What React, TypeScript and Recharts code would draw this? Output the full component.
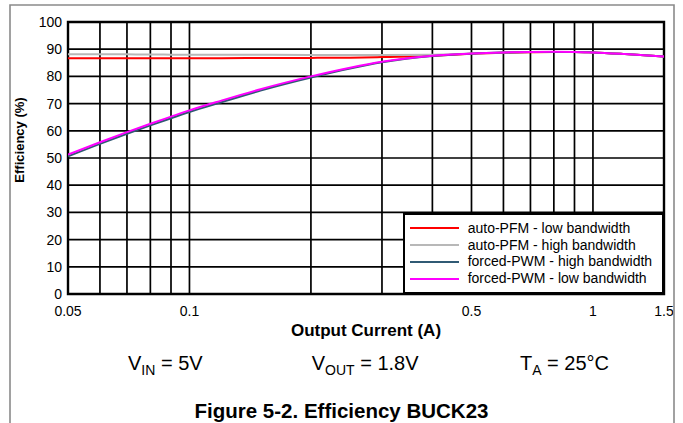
import React from 'react';
import { LineChart, Line, XAxis, YAxis, ReferenceLine, ReferenceArea, Legend } from 'recharts';

const FONT = '"Liberation Sans", Arial, sans-serif';

// Output current (A)
const currents = [0.05, 0.06, 0.07, 0.08, 0.09, 0.1, 0.12, 0.15, 0.2, 0.25, 0.3, 0.4, 0.5, 0.6, 0.7, 0.8, 0.9, 1, 1.2, 1.5];
// Efficiency (%)
const autoPfmLow = [86.7, 86.7, 86.7, 86.7, 86.7, 86.7, 86.7, 86.75, 86.8, 86.9, 87.1, 87.6, 88.3, 88.7, 88.9, 89.0, 89.0, 88.8, 88.2, 87.3];
const autoPfmHigh = [88.1, 88.1, 88.1, 88.05, 88.0, 88.0, 88.0, 87.95, 87.9, 87.9, 87.9, 88.0, 88.4, 88.75, 88.95, 89.0, 89.0, 88.8, 88.2, 87.3];
const forcedPwmHigh = [50.6, 55.2, 58.9, 62.0, 64.6, 66.9, 70.5, 74.8, 79.6, 82.9, 85.2, 87.5, 88.35, 88.75, 88.95, 89.0, 89.0, 88.8, 88.2, 87.3];
const forcedPwmLow = [51.3, 55.8, 59.5, 62.6, 65.2, 67.5, 71.1, 75.3, 80.0, 83.2, 85.4, 87.6, 88.4, 88.8, 89.0, 89.05, 89.0, 88.8, 88.2, 87.3];

const xTicks = [0.05, 0.1, 0.5, 1, 1.5];
const yTicks = [0, 10, 20, 30, 40, 50, 60, 70, 80, 90, 100];
const xGrid = [0.06, 0.07, 0.08, 0.09, 0.1, 0.2, 0.3, 0.4, 0.5, 0.6, 0.7, 0.8, 0.9, 1];
const yGrid = [10, 20, 30, 40, 50, 60, 70, 80, 90];

const seriesNames = [
  'auto-PFM - low bandwidth',
  'auto-PFM - high bandwidth',
  'forced-PWM - high bandwidth',
  'forced-PWM - low bandwidth',
];

const data = currents.map((c, i) => ({
  current: c,
  pfmLow: autoPfmLow[i],
  pfmHigh: autoPfmHigh[i],
  pwmHigh: forcedPwmHigh[i],
  pwmLow: forcedPwmLow[i],
}));

const renderLegend = (props: any) => {
  const payload = [...(props.payload || [])].sort(
    (a: any, b: any) => seriesNames.indexOf(a.value) - seriesNames.indexOf(b.value)
  );
  return (
    <div
      style={{
        boxSizing: 'border-box',
        width: 261,
        height: 81,
        border: '2px solid #000',
        background: '#fff',
        paddingTop: 4.8,
        fontFamily: FONT,
        fontSize: 14,
        color: '#000',
      }}
    >
      {payload.map((p: any, i: number) => (
        <div key={i} style={{ height: 16.8, display: 'flex', alignItems: 'center', whiteSpace: 'nowrap' }}>
          <svg width={49} height={4} style={{ marginLeft: 5, display: 'block' }}>
            <line x1={0} y1={2} x2={49} y2={2} stroke={p.color} strokeWidth={2} />
          </svg>
          <span style={{ marginLeft: 8.7, lineHeight: '16.8px' }}>{p.value}</span>
        </div>
      ))}
    </div>
  );
};

export default function App() {
  const tickStyle = { fontSize: 14, fill: '#000', fontFamily: FONT };
  return (
    <div style={{ position: 'absolute', left: 0, top: 0, width: 683, height: 423, background: '#fff', overflow: 'hidden' }}>
      <LineChart width={683} height={423} data={data} margin={{ top: 22, right: 19, bottom: 89, left: 0 }}>
        <XAxis
          dataKey="current"
          type="number"
          scale="log"
          domain={[0.05, 1.5]}
          ticks={xTicks}
          allowDataOverflow
          interval={0}
          height={40}
          tickSize={0}
          tickMargin={12}
          axisLine={false}
          tickLine={false}
          tick={tickStyle}
          tickFormatter={(v: number) => String(v)}
        />
        <YAxis
          type="number"
          domain={[0, 100]}
          ticks={yTicks}
          interval={0}
          width={68}
          tickSize={0}
          tickMargin={6}
          axisLine={false}
          tickLine={false}
          tick={tickStyle}
        />
        {xGrid.map((v) => (
          <ReferenceLine key={'x' + v} x={v} stroke="#000" strokeWidth={1.7} />
        ))}
        {yGrid.map((v) => (
          <ReferenceLine key={'y' + v} y={v} stroke="#000" strokeWidth={1.7} />
        ))}
        <ReferenceArea x1={0.05} x2={1.5} y1={0} y2={100} fill="none" fillOpacity={0} stroke="#000" strokeWidth={2.4} />
        <Legend
          layout="vertical"
          align="center"
          verticalAlign="middle"
          content={renderLegend}
          wrapperStyle={{ left: 403, top: 213, bottom: 'auto', right: 'auto', width: 261, height: 81 }}
        />
        <Line type="monotone" dataKey="pfmLow" name={seriesNames[0]} stroke="#ff0000" strokeWidth={2} dot={false} isAnimationActive={false} />
        <Line type="monotone" dataKey="pfmHigh" name={seriesNames[1]} stroke="#b8b8b8" strokeWidth={2} dot={false} isAnimationActive={false} />
        <Line type="monotone" dataKey="pwmHigh" name={seriesNames[2]} stroke="#305a74" strokeWidth={2} dot={false} isAnimationActive={false} />
        <Line type="monotone" dataKey="pwmLow" name={seriesNames[3]} stroke="#ff00ff" strokeWidth={2} dot={false} isAnimationActive={false} />
      </LineChart>
      <svg width={683} height={423} style={{ position: 'absolute', left: 0, top: 0, pointerEvents: 'none' }}>
        <path d="M10,430 L10,5 L674,5 L674,430" fill="none" stroke="#8a8a8a" strokeWidth={1.6} />
        <text
          transform="translate(23.5,140) rotate(-90)"
          textAnchor="middle"
          fontFamily={FONT}
          fontWeight="bold"
          fontSize={13}
          fill="#000"
        >
          Efficiency (%)
        </text>
        <text x={366} y={336} textAnchor="middle" fontFamily={FONT} fontWeight="bold" fontSize={17} fill="#000">
          Output Current (A)
        </text>
        <text x={128} y={370} fontFamily={FONT} fontSize={20} fill="#000">
          V<tspan fontSize={14} dy={5}>IN</tspan>
          <tspan dy={-5}> = 5V</tspan>
        </text>
        <text x={311.7} y={370} fontFamily={FONT} fontSize={20} fill="#000">
          V<tspan fontSize={14} dy={5}>OUT</tspan>
          <tspan dy={-5}> = 1.8V</tspan>
        </text>
        <text x={520} y={370} fontFamily={FONT} fontSize={20} fill="#000">
          T<tspan fontSize={14} dy={5}>A</tspan>
          <tspan dy={-5}> = 25°C</tspan>
        </text>
        <text x={341.5} y={418} textAnchor="middle" fontFamily={FONT} fontWeight="bold" fontSize={20.5} fill="#000">
          Figure 5-2. Efficiency BUCK23
        </text>
      </svg>
    </div>
  );
}
